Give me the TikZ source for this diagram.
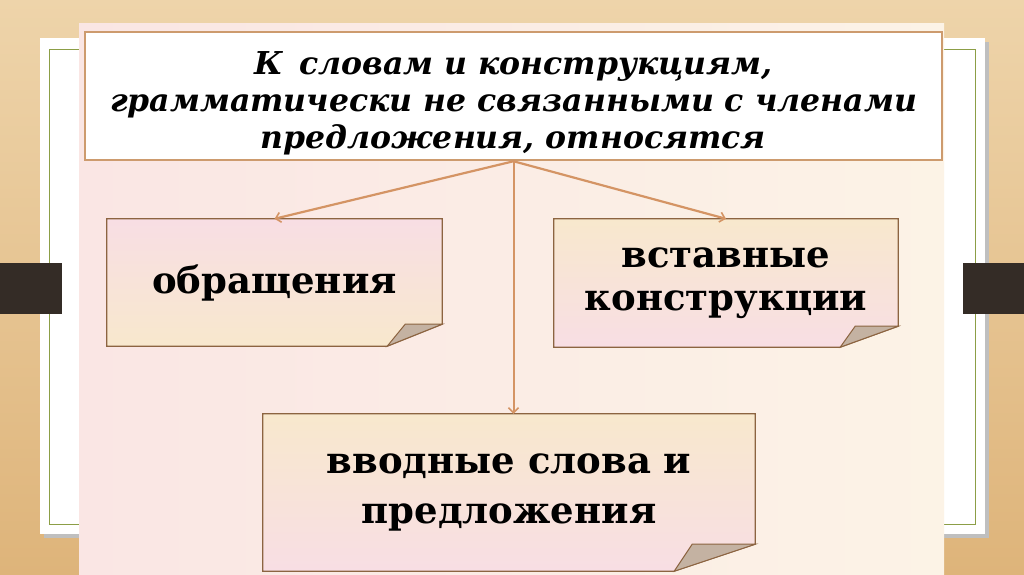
\documentclass[tikz,border=0pt]{standalone}
\usepackage{fontspec}
\setmainfont{DejaVu Serif}
\usetikzlibrary{arrows.meta,calc}

\definecolor{woodtop}{RGB}{238,212,170}
\definecolor{woodbot}{RGB}{222,180,122}
\definecolor{darkbar}{RGB}{52,44,38}
\definecolor{greenline}{RGB}{140,158,70}
\definecolor{pagepink}{RGB}{250,230,228}
\definecolor{pagecream}{RGB}{252,243,230}
\definecolor{boxline}{RGB}{140,100,65}
\definecolor{titleline}{RGB}{205,155,110}
\definecolor{linkcol}{RGB}{212,148,100}
\definecolor{boxpink}{RGB}{248,222,228}
\definecolor{boxcream}{RGB}{248,232,205}
\definecolor{flapcol}{RGB}{196,178,162}

\pgfdeclarelayer{back}
\pgfdeclarelayer{sheets}
\pgfsetlayers{back,sheets,main}

\tikzset{
  sheet/.style={inner sep=0pt, align=center,
    font=\fontsize{37}{43}\selectfont\bfseries},
  pinktop/.style={top color=boxpink, bottom color=boxcream},
  creamtop/.style={top color=boxcream, bottom color=boxpink},
  link/.style={draw=linkcol, line width=2.2pt,
    -{Straight Barb[length=5pt,width=10pt,line width=1.6pt]}}
}

% sheet with a turned-up corner: node, shading, cut along bottom, cut up the side, tip
\newcommand{\curlsheet}[5]{%
  \begin{pgfonlayer}{sheets}
  \shadedraw[#2, draw=boxline, line width=1.2pt] (#1.south west)
    -- ($(#1.south east)+(-#3,0)$) -- ($(#1.south east)+(0,#4)$)
    -- (#1.north east) -- (#1.north west) -- cycle;
  \end{pgfonlayer}
  \filldraw[fill=flapcol, draw=boxline, line width=1pt]
    ($(#1.south east)+(-#3,0)$) -- ($(#1.south east)+(-#5,#4)$)
    -- ($(#1.south east)+(0,#4)$) -- cycle;
}

\begin{document}
\begin{tikzpicture}[x=1pt, y=1pt]
\useasboundingbox (0,0) rectangle (1024,574);
\begin{pgfonlayer}{back}
\shade[top color=woodtop, bottom color=woodbot] (0,0) rectangle (1024,574);
% back page
\fill[black!25] (44,36) rectangle (989,532);
\fill[white] (40,40) rectangle (985,536);
\draw[greenline, line width=0.8pt] (49,50) rectangle (975,525);
\fill[darkbar] (0,260) rectangle (62,311);
\fill[darkbar] (963,260) rectangle (1024,311);
% front page
\shade[left color=pagepink, right color=pagecream] (79,0) rectangle (944,550);
\end{pgfonlayer}

\node[draw=titleline, line width=2.5pt, fill=white,
  minimum width=857, minimum height=128] (titlebox) at (513.5,478) {};
\node[sheet, font=\fontsize{31.5}{37}\selectfont\bfseries\itshape] (title) at (513.5,471)
  {К\, словам и конструкциям,\\грамматически не связанными с членами\\предложения, относятся};

\node[sheet, minimum width=335, minimum height=127] (obr) at (274.5,291.5)
  {обращения};
\node[sheet, minimum width=344, minimum height=128] (vst) at (726,291)
  {вставные\\конструкции};
\node[sheet, minimum width=492, minimum height=157,
  font=\fontsize{37}{50}\selectfont\bfseries] (vvod) at (509,81.5)
  {вводные слова и\\предложения};

\curlsheet{obr}{pinktop}{55}{22}{37}
\curlsheet{vst}{creamtop}{58}{21}{43}
\curlsheet{vvod}{creamtop}{81}{27}{63}

\draw[link] (titlebox.south) -- (obr.north);
\draw[link] (titlebox.south) -- (vst.north);
\draw[link, line width=2pt] (titlebox.south) -- (titlebox.south |- vvod.north);
\end{tikzpicture}
\end{document}
